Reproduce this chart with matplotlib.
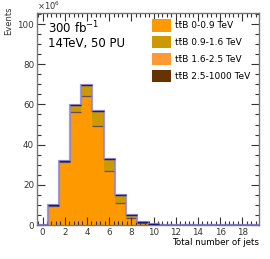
import numpy as np
import matplotlib.pyplot as plt

# number of jets (bin centres) and stacked yields in units of 10^6 events
njets = np.arange(0, 20)
ttb_0_09 = [0, 9.6, 31.2, 56.0, 64.0, 49.4, 26.7, 11.1, 3.3, 1.0, 0.3, 0.1, 0.03, 0, 0, 0, 0, 0, 0, 0]
ttb_09_16 = [0, 0.2, 0.75, 3.5, 5.4, 6.6, 5.5, 3.4, 1.35, 0.45, 0.17, 0.08, 0.02, 0, 0, 0, 0, 0, 0, 0]
ttb_16_25 = [0, 0, 0.05, 0.18, 0.35, 0.42, 0.42, 0.25, 0.13, 0.05, 0.03, 0.02, 0, 0, 0, 0, 0, 0, 0, 0]
ttb_25_1000 = [0, 0, 0, 0.02, 0.05, 0.08, 0.08, 0.05, 0.02, 0, 0, 0, 0, 0, 0, 0, 0, 0, 0, 0]

labels = ["t\u0074\u0304B 0-0.9 TeV", "t\u0074\u0304B 0.9-1.6 TeV",
          "t\u0074\u0304B 1.6-2.5 TeV", "t\u0074\u0304B 2.5-1000 TeV"]
colors = ["#ff9900", "#cc9900", "#ff9933", "#663300"]

fig = plt.figure(figsize=(2.7, 2.59), dpi=100)
ax = fig.add_axes([0.137, 0.131, 0.822, 0.819])

layers = [ttb_0_09, ttb_09_16, ttb_16_25, ttb_25_1000]
bottom = np.zeros(len(njets))
handles = []
for vals, col, lab in zip(layers, colors, labels):
    vals = np.array(vals, dtype=float)
    h = ax.bar(njets, vals, width=1.0, bottom=bottom, color=col, edgecolor="none", label=lab)
    handles.append(h)
    top = bottom + vals
    if lab == labels[0]:
        # boundary between the two main layers, horizontal only
        mask = top > 0.5
        ax.hlines(top[mask], njets[mask] - 0.5, njets[mask] + 0.5, color="#4a3f6a",
                  lw=0.9, alpha=0.85, zorder=4)
    bottom = top

# outline of the stack
edges = np.arange(-0.5, 20, 1.0)
ax.stairs(bottom, edges, color="#8a84d6", lw=1.6, alpha=0.8, zorder=5)
ax.hlines(bottom, njets - 0.5, njets + 0.5, color="#1c1c7a", lw=1.0, zorder=6)

ax.set_xlim(-0.5, 19.5)
ax.set_ylim(0, 105.5)
ax.set_xticks(np.arange(0, 19, 2))
ax.set_xticks(np.arange(-0.4, 19.5, 0.4), minor=True)
ax.set_yticks(np.arange(0, 101, 20))
ax.set_yticks(np.arange(0, 106, 5), minor=True)
ax.tick_params(which="both", direction="in", top=True, right=True, labelsize=6.3,
               colors="#333333", pad=2)
ax.tick_params(which="major", length=6, width=0.8)
ax.tick_params(which="minor", length=3, width=0.8)
for sp in ax.spines.values():
    sp.set_color("#777777")
    sp.set_linewidth(1.0)

ax.set_xlabel("Total number of jets", fontsize=6.3, loc="right", labelpad=1)
fig.text(0.032, 0.975, "Events", rotation=90, fontsize=6.0, va="top", ha="center",
         color="#333333")
ax.text(0.0, 1.005, r"$\times10^{6}$", transform=ax.transAxes, fontsize=6, va="bottom",
        ha="left", color="#333333")

ax.text(0.05, 0.97, r"300 fb$^{-1}$", transform=ax.transAxes, fontsize=8.5, va="top")
ax.text(0.05, 0.885, "14TeV, 50 PU", transform=ax.transAxes, fontsize=8.5, va="top")

ax.legend(handles=handles, loc="upper right", bbox_to_anchor=(0.985, 0.995), fontsize=6.5,
          frameon=False, handlelength=2.1, handleheight=1.7, labelspacing=0.5,
          handletextpad=0.45, borderaxespad=0.2)

fig.savefig("out.png", dpi=100)
